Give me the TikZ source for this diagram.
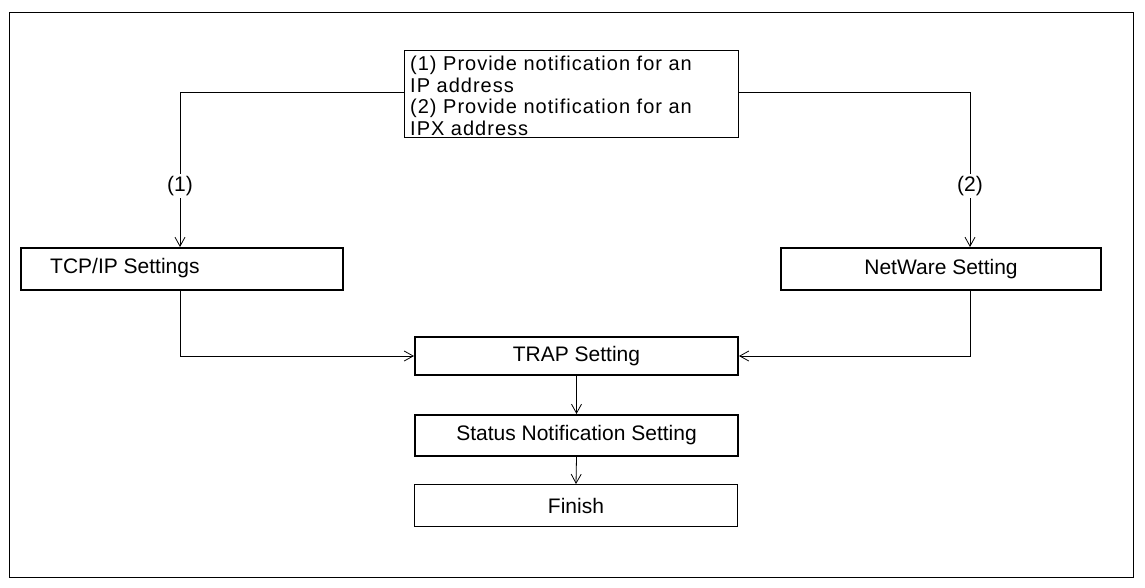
\documentclass[tikz,border=0pt]{standalone}
\usepackage{fontspec}
\setmainfont{Liberation Sans}
\newfontfamily\spacedfont[LetterSpace=5]{Liberation Sans}
\usetikzlibrary{arrows.meta}
\begin{document}
\begin{tikzpicture}[x=1pt,y=-1pt,
  box/.style={draw,line width=2pt,minimum height=42pt,inner sep=0pt},
  thinbox/.style={draw,line width=1pt,minimum height=42pt,inner sep=0pt},
  lbl/.style={font=\fontsize{21}{24}\selectfont},
  arr/.style={line width=0.8pt,-{Straight Barb[length=9pt,width=10pt]}},
  ln/.style={line width=0.8pt}]
\useasboundingbox (0,0) rectangle (1145,587);
\node[draw,line width=1pt,minimum width=1124pt,minimum height=565pt,anchor=north west] (frame) at (9,12) {};
\node[draw,line width=1pt,minimum width=334pt,minimum height=87pt,anchor=north west,inner sep=0pt] (top) at (404,50) {};
\node[anchor=north west,align=left,inner sep=0pt,font=\spacedfont\fontsize{20}{21.5}\selectfont] (toptext) at (410,56) {(1) Provide notification for an\\IP address\\(2) Provide notification for an\\IPX address};
\node[box,minimum width=322pt,anchor=north west] (tcp) at (20,247) {};
\node[lbl,anchor=west,inner sep=0pt] (tcptext) at (50,268.5) {TCP/IP Settings};
\node[box,minimum width=320pt,anchor=north west,lbl] (nw) at (780,247) {NetWare Setting};
\node[box,minimum width=323pt,minimum height=38pt,anchor=north west,lbl] (trap) at (414,336) {TRAP Setting};
\node[box,minimum width=323pt,minimum height=41pt,anchor=north west,lbl] (status) at (414,414) {Status Notification Setting};
\node[thinbox,minimum width=323pt,anchor=north west,lbl] (fin) at (414,484) {Finish};
\coordinate (tl) at (top.west |- 0,92);
\coordinate (tr) at (top.east |- 0,92);
\draw[arr] (tl) -| (180,247) coordinate (tcpin);
\draw[arr] (tr) -| (970,247) coordinate (nwin);
\node[lbl,fill=white,inner sep=2pt] (l1) at (180,186) {(1)};
\node[lbl,fill=white,inner sep=2pt] (l2) at (970,186) {(2)};
\draw[arr] (180,290) |- (trap.west);
\draw[arr] (970,290) |- (trap.east);
\draw[arr] (trap.south) -- (status.north);
\draw[arr] (status.south) -- (fin.north);
\end{tikzpicture}
\end{document}
